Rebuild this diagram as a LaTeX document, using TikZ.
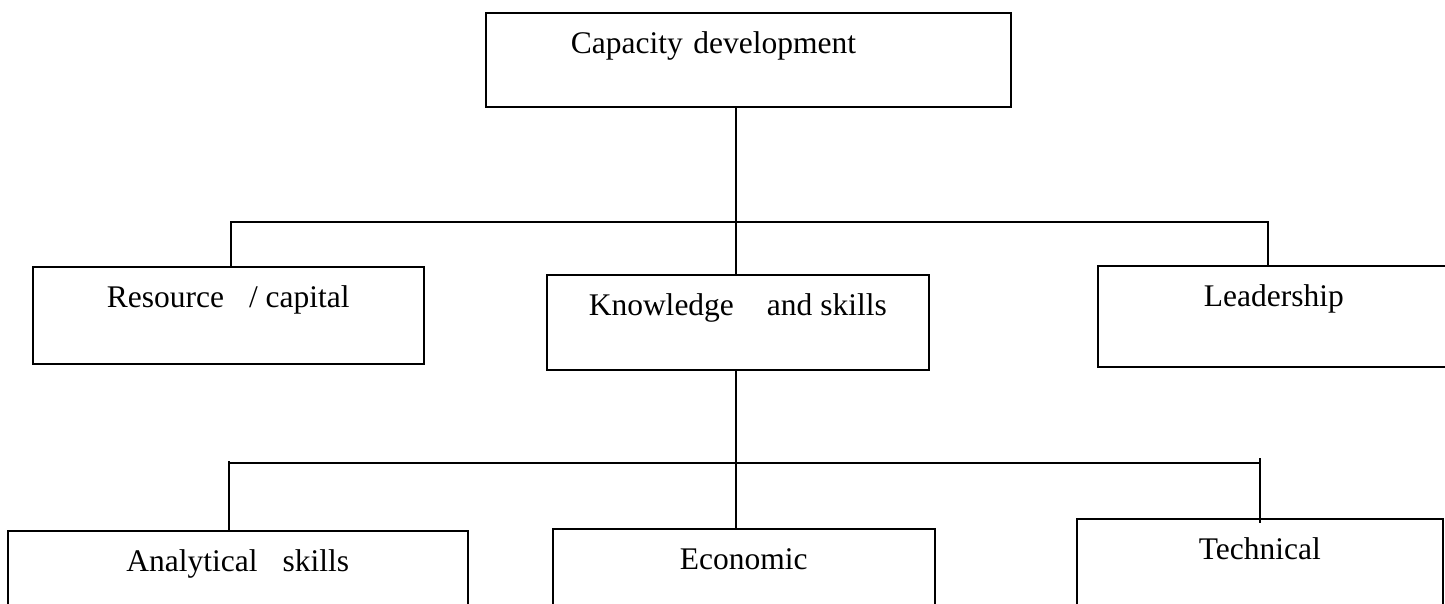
\documentclass[tikz,border=0pt]{standalone}
\usepackage{fontspec}
\setmainfont{Liberation Serif}
\begin{document}
\begin{tikzpicture}[x=1pt,y=-1pt,line width=1.6pt,
    box/.style={draw,anchor=north west,inner sep=0pt,text height=41pt,
        font=\fontsize{31.5}{36}\selectfont}]
\clip (0,0) rectangle (1445,604);
\fill[white] (0,0) rectangle (1445,604);

% top level
\node[box,text width=355pt,align=left,inner xsep=85pt,text depth=53pt] (cap) at (485,12) {Capacity development};

% second level
\node[box,minimum width=391pt,text depth=56pt] (res) at (32,266) {Resource\hspace{25pt}/ capital};
\node[box,minimum width=382pt,text depth=54pt] (know) at (546,274) {Knowledge\hspace{33pt}and skills};
\node[box,minimum width=352pt,text depth=60pt] (lead) at (1097,265) {Leadership};

% third level
\node[box,minimum width=460pt,text depth=70pt] (ana) at (7,530) {Analytical\hspace{25pt}skills};
\node[box,minimum width=382pt,text depth=70pt] (eco) at (552,528) {Economic};
\node[box,minimum width=366pt,text depth=70pt] (tech) at (1076,518) {Technical};

\coordinate (j1) at (736,222);
\coordinate (b1l) at (231,222);
\coordinate (b1r) at (1268,222);
\coordinate (b2l) at (229,463);
\coordinate (b2r) at (1260,463);

\draw (j1 |- cap.south) -- (j1 |- know.north);
\draw (b1l |- res.north) -- (b1l) -- (b1r) -- (b1r |- lead.north);

\draw (j1 |- know.south) -- (j1 |- eco.north);
\draw (b2l |- ana.north) -- ([yshift=2pt]b2l);
\draw (b2l) -- (b2r);
\draw ([yshift=5pt]b2r) -- ([yshift=-5pt]b2r |- tech.north);
\end{tikzpicture}
\end{document}
